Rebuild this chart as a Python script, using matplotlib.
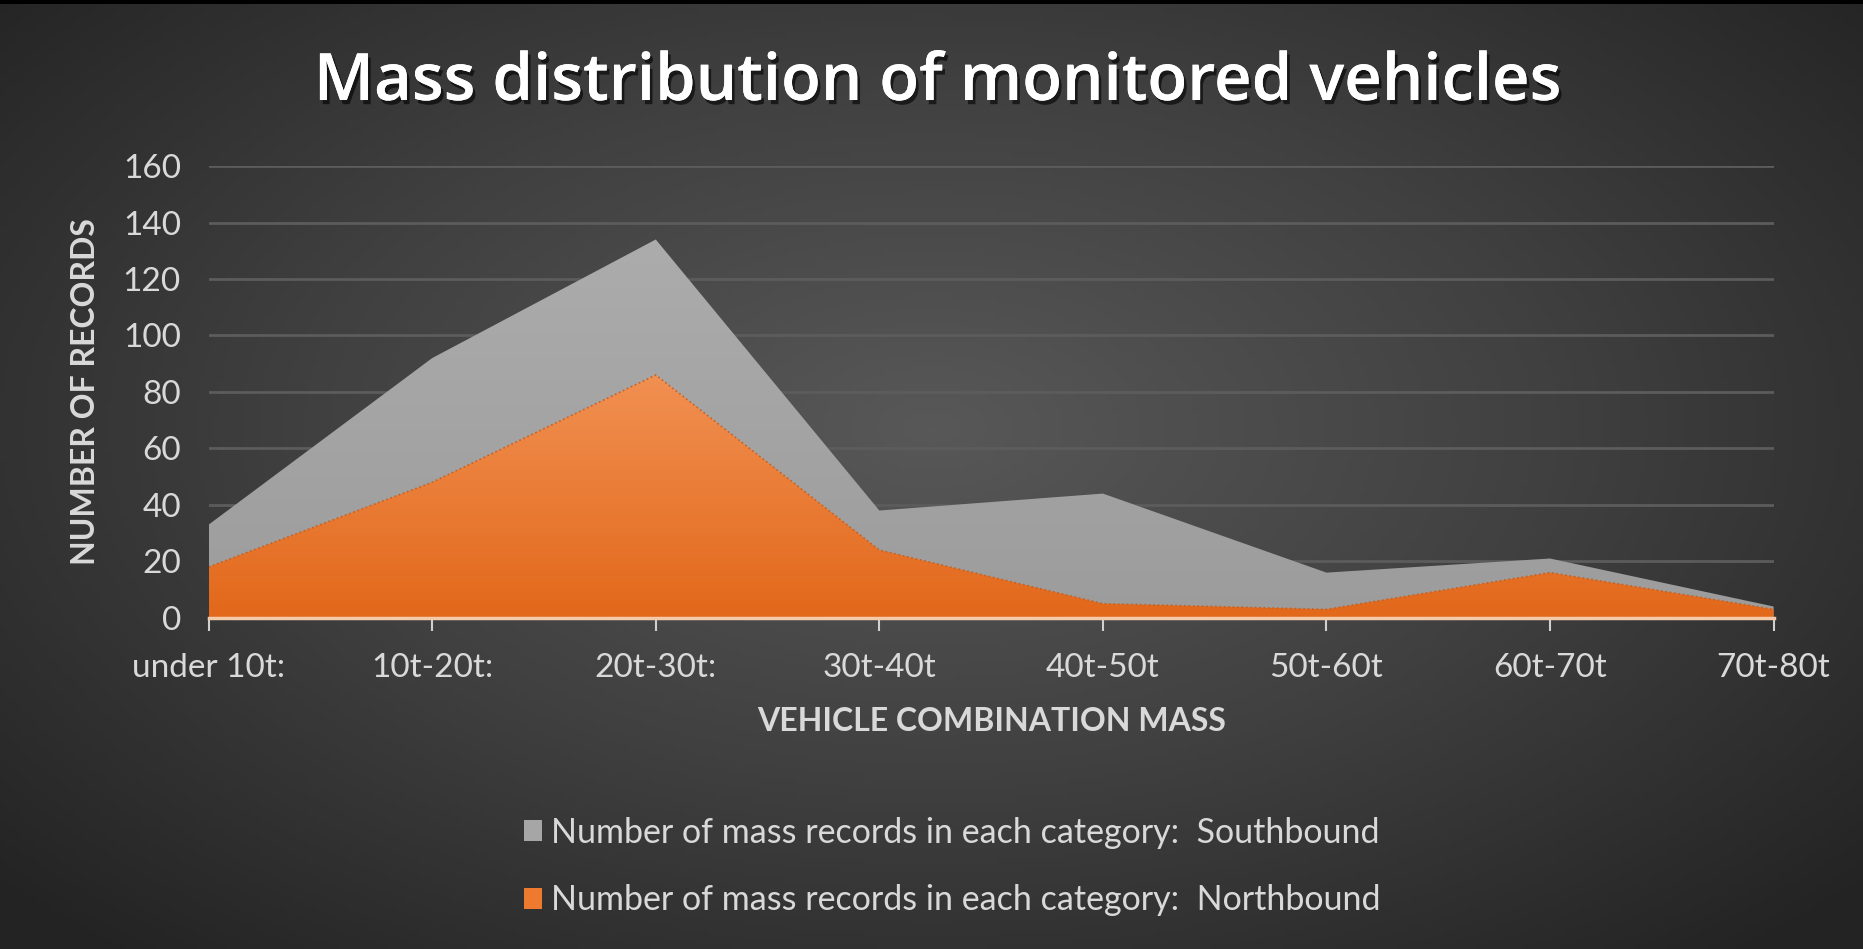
import numpy as np
import matplotlib.pyplot as plt
import matplotlib.patheffects as pe
from matplotlib.colors import LinearSegmentedColormap
from matplotlib.patches import PathPatch, Patch

plt.rcParams['font.family'] = ['Lato', 'DejaVu Sans']

# données
categories = ['under 10t:', '10t-20t:', '20t-30t:', '30t-40t', '40t-50t', '50t-60t', '60t-70t', '70t-80t']
southbound = [33, 92, 134, 38, 44, 16, 21, 4]
northbound = [18, 48, 86, 24, 5, 3, 16, 3]
yticks = [0, 20, 40, 60, 80, 100, 120, 140, 160]

label_sb = 'Number of mass records in each category:  Southbound'
label_nb = 'Number of mass records in each category:  Northbound'

txt = '#d9d9d9'

fig = plt.figure(figsize=(18.63, 9.49), dpi=100)

# fond en dégradé radial
bg = fig.add_axes([0, 0, 1, 1], zorder=-10)
gx, gy = np.meshgrid(np.linspace(-1, 1, 400), np.linspace(-1, 1, 200))
r = np.sqrt((gx / 1.0) ** 2 + ((gy + 0.1) / 1.1) ** 2)
bg_cmap = LinearSegmentedColormap.from_list('bg', ['#585858', '#404040', '#232323'])
bg.imshow(np.clip(r / 1.35, 0, 1), cmap=bg_cmap, aspect='auto', extent=[0, 1, 0, 1], vmin=0, vmax=1)
bg.set_xlim(0, 1)
bg.set_ylim(0, 1)
bg.axis('off')
bg.add_patch(plt.Rectangle((0, 0.996), 1, 0.004, transform=bg.transAxes, color='black', lw=0))

ax = fig.add_axes([0.112, 0.349, 0.840, 0.476])
ax.set_facecolor('none')
x = np.arange(len(categories))


def gradient_area(ax, x, y, c_top, c_bot, z):
    y = np.asarray(y, dtype=float)
    poly = ax.fill_between(x, y, 0, color='none', lw=0)
    patch = PathPatch(poly.get_paths()[0], facecolor='none', edgecolor='none', transform=ax.transData)
    ax.add_patch(patch)
    cmap = LinearSegmentedColormap.from_list('g', [c_bot, c_top])
    grad = np.linspace(0, 1, 256).reshape(-1, 1)
    im = ax.imshow(grad, cmap=cmap, aspect='auto', origin='lower',
                   extent=[x.min(), x.max(), 0, y.max()], zorder=z)
    im.set_clip_path(patch)


for yt in yticks[1:]:
    ax.axhline(yt, color='#5c5c5c', lw=2, zorder=1)

gradient_area(ax, x, southbound, '#acacac', '#9c9c9c', 2)
gradient_area(ax, x, northbound, '#f19052', '#e2681a', 3)
ax.plot(x, northbound, color='#c9601f', lw=1.2, ls=':', zorder=4)

ax.set_xlim(0, len(categories) - 1)
ax.set_ylim(0, 160)
ax.set_yticks(yticks)
ax.set_xticks(x)
ax.set_xticklabels(categories)
ax.tick_params(axis='y', length=0, pad=20, labelsize=24, labelcolor=txt)
ax.tick_params(axis='x', length=9, width=1.5, color='#d0d0d0', pad=16, labelsize=24, labelcolor=txt)
for s in ['top', 'right', 'left']:
    ax.spines[s].set_visible(False)
ax.spines['bottom'].set_color('#f3cbaa')
ax.spines['bottom'].set_linewidth(2.5)
ax.spines['bottom'].set_zorder(5)

fig.text(0.503, 0.912, 'Mass distribution of monitored vehicles', ha='center', va='center',
         fontsize=47, fontweight='semibold', color='white', family=['Open Sans', 'DejaVu Sans'],
         path_effects=[pe.withSimplePatchShadow(offset=(2, -3), shadow_rgbFace='black', alpha=0.6), pe.Normal()])
fig.text(0.532, 0.240, 'VEHICLE COMBINATION MASS', ha='center', va='center',
         fontsize=23, fontweight='bold', color=txt)
fig.text(0.046, 0.587, 'NUMBER OF RECORDS', ha='center', va='center', rotation=90,
         fontsize=23, fontweight='bold', color=txt)

handles = [Patch(facecolor='#a6a6a6', label=label_sb), Patch(facecolor='#ee7a2f', label=label_nb)]
fig.legend(handles=handles, loc='center', bbox_to_anchor=(0.511, 0.087), frameon=False,
           fontsize=24.5, labelcolor=txt, handlelength=0.55, handleheight=0.55,
           handletextpad=0.25, labelspacing=1.05)

fig.savefig('out.png', dpi=100)
